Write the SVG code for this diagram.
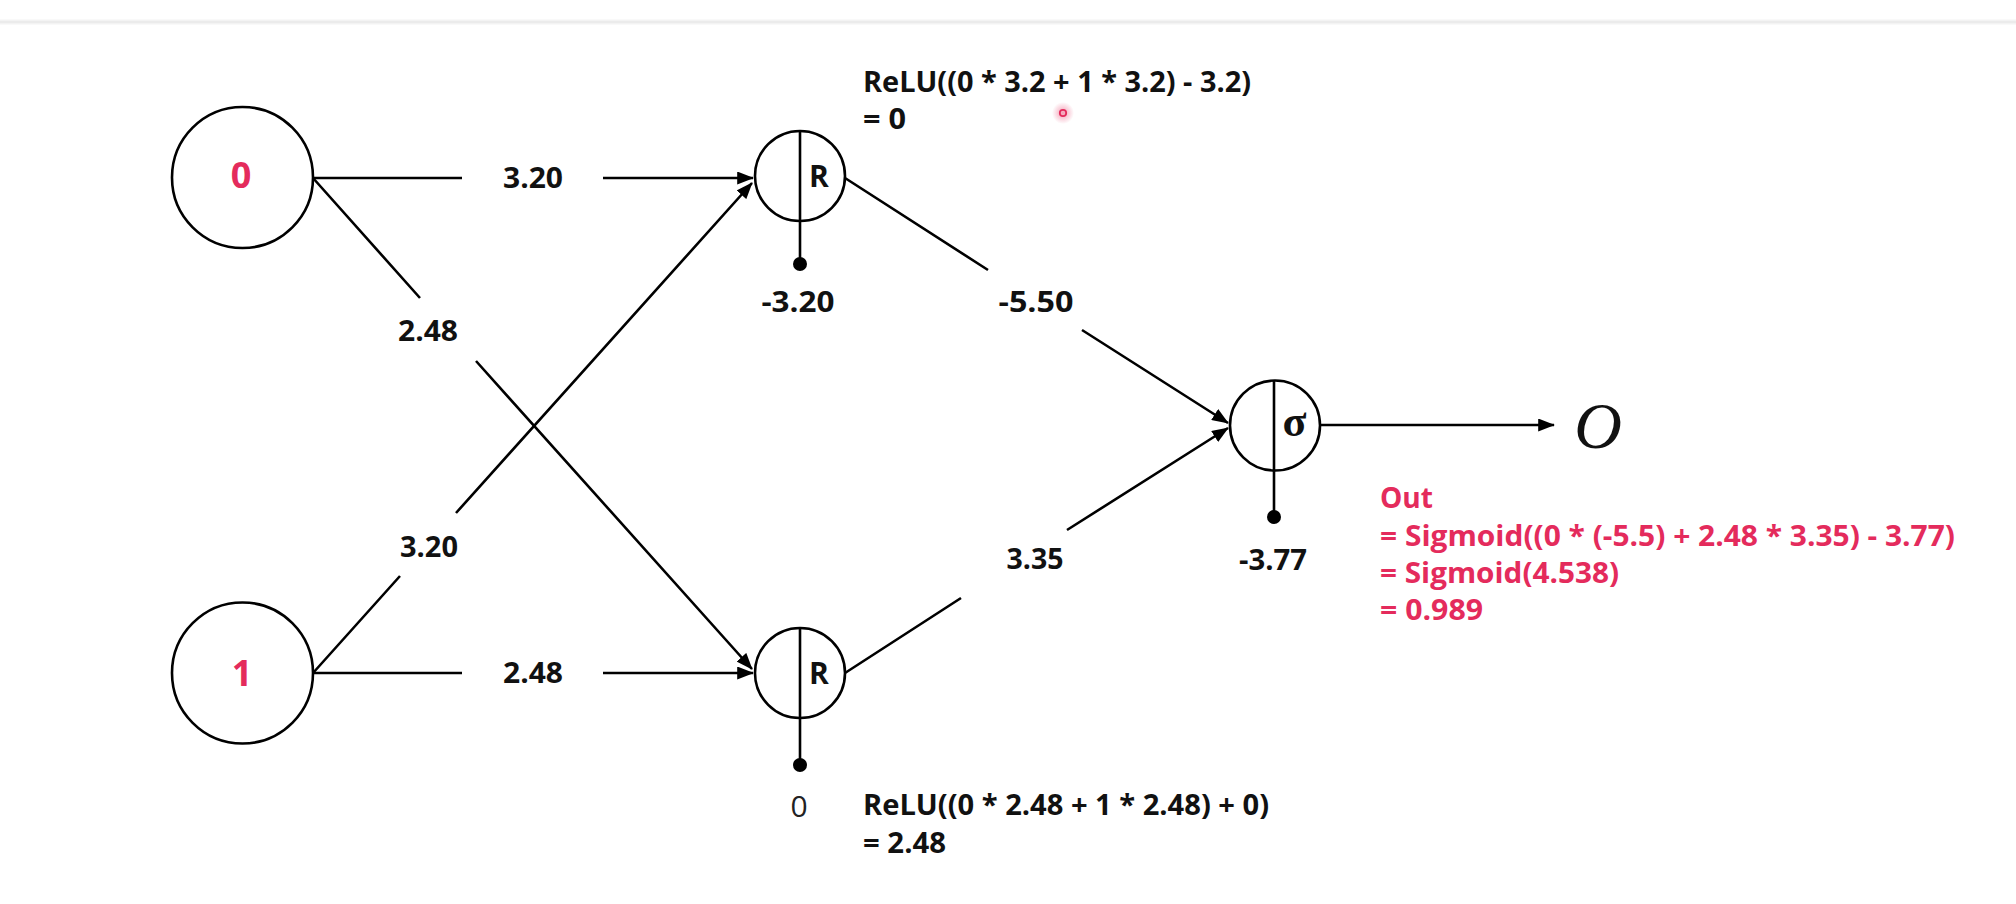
<svg xmlns="http://www.w3.org/2000/svg" width="2016" height="904" viewBox="0 0 2016 904">
  <style>
    .node { fill: #ffffff; stroke: #000000; stroke-width: 2.6; }
    .edge { fill: none; stroke: #000000; stroke-width: 2.6; }
    .split { stroke: #000000; stroke-width: 2.6; }
    .dot { fill: #000000; }
    .lbl { font-family: "Open Sans", "Liberation Sans", sans-serif; font-weight: 700; font-size: 28px; fill: #111111; }
    .mid { text-anchor: middle; }
    .fn { font-family: "Open Sans", "Liberation Sans", sans-serif; font-weight: 700; font-size: 30px; fill: #111111; text-anchor: middle; }
    .in { font-family: "Open Sans", "Liberation Sans", sans-serif; font-weight: 700; font-size: 36px; fill: #E42B5C; text-anchor: middle; }
    .formula { font-family: "Open Sans", "Liberation Sans", sans-serif; font-weight: 700; font-size: 28px; fill: #111111; }
    .red { fill: #E42B5C; }
    .plain { font-family: "Open Sans", "Liberation Sans", sans-serif; font-weight: 400; font-size: 30px; fill: #222222; text-anchor: middle; }
  </style>
  <defs>
    <marker id="arrow" viewBox="0 0 18 14" refX="17" refY="7" markerWidth="17" markerHeight="13" markerUnits="userSpaceOnUse" orient="auto">
      <path d="M0,0 L18,7 L0,14 Z" fill="#000000"/>
    </marker>
    <radialGradient id="halo">
      <stop offset="0" stop-color="#E42B5C" stop-opacity="0.45"/>
      <stop offset="1" stop-color="#E42B5C" stop-opacity="0"/>
    </radialGradient>
  </defs>

  <rect width="2016" height="904" fill="#ffffff"/>
  <!-- header separator -->
  <line x1="0" y1="22" x2="2016" y2="22" stroke="#f3f3f3" stroke-width="5"/>
  <line x1="0" y1="22" x2="2016" y2="22" stroke="#e8e8e8" stroke-width="1.5"/>

  <!-- connectors (gaps left open for the weight labels) -->
  <g id="connectors">
    <path class="edge" d="M313,178 L462,178 M603,178 L753,178" marker-end="url(#arrow)"/>
    <path class="edge" d="M313,178 L420,298 M476,361 L752,669" marker-end="url(#arrow)"/>
    <path class="edge" d="M313,673 L400,576 M456,513 L752,183" marker-end="url(#arrow)"/>
    <path class="edge" d="M313,673 L462,673 M603,673 L753,673" marker-end="url(#arrow)"/>
    <path class="edge" d="M845,178 L988,270 M1082,330 L1228,423" marker-end="url(#arrow)"/>
    <path class="edge" d="M845,673 L961,598 M1067,530 L1228,428" marker-end="url(#arrow)"/>
    <path class="edge" d="M1320,425 L1554,425" marker-end="url(#arrow)"/>
  </g>

  <!-- weight labels -->
  <g id="weights">
    <text class="lbl mid" x="533" y="188" textLength="60" lengthAdjust="spacingAndGlyphs">3.20</text>
    <text class="lbl mid" x="428" y="341" textLength="60" lengthAdjust="spacingAndGlyphs">2.48</text>
    <text class="lbl mid" x="429" y="557" textLength="58" lengthAdjust="spacingAndGlyphs">3.20</text>
    <text class="lbl mid" x="533" y="683" textLength="60" lengthAdjust="spacingAndGlyphs">2.48</text>
    <text class="lbl mid" x="1036" y="312" textLength="75" lengthAdjust="spacingAndGlyphs">-5.50</text>
    <text class="lbl mid" x="1035" y="569" textLength="57" lengthAdjust="spacingAndGlyphs">3.35</text>
  </g>

  <!-- inputs -->
  <g id="input-0">
    <circle class="node" cx="242.5" cy="177.5" r="70.5"/>
    <text class="in" x="241" y="188">0</text>
  </g>
  <g id="input-1">
    <circle class="node" cx="242.5" cy="673" r="70.5"/>
    <text class="in" x="242" y="686">1</text>
  </g>

  <!-- hidden ReLU units -->
  <g id="relu-1">
    <circle class="node" cx="800" cy="176" r="45"/>
    <line class="split" x1="800" y1="131" x2="800" y2="264"/>
    <circle class="dot" cx="800" cy="264" r="7"/>
    <text class="fn" x="819" y="187">R</text>
    <text class="lbl mid" x="798" y="312" textLength="73" lengthAdjust="spacingAndGlyphs">-3.20</text>
  </g>
  <g id="relu-2">
    <circle class="node" cx="800" cy="673" r="45"/>
    <line class="split" x1="800" y1="628" x2="800" y2="765"/>
    <circle class="dot" cx="800" cy="765" r="7"/>
    <text class="fn" x="819" y="684">R</text>
    <text class="plain" x="799" y="817">0</text>
  </g>

  <!-- sigmoid output unit -->
  <g id="sigmoid">
    <circle class="node" cx="1275" cy="425.5" r="45"/>
    <line class="split" x1="1274" y1="380.5" x2="1274" y2="517"/>
    <circle class="dot" cx="1274" cy="517" r="7"/>
    <text x="1294.5" y="436" text-anchor="middle" font-family="'Liberation Serif', serif" font-weight="700" font-size="44" fill="#111111">σ</text>
    <text class="lbl mid" x="1273" y="570" textLength="68" lengthAdjust="spacingAndGlyphs">-3.77</text>
  </g>

  <g id="output">
    <text x="1598" y="448" text-anchor="middle" font-family="'Liberation Serif', serif" font-style="italic" font-size="66" fill="#111111">O</text>
  </g>

  <!-- worked calculations -->
  <g id="relu-1-calc">
    <text class="formula" x="863" y="92" textLength="388" lengthAdjust="spacingAndGlyphs">ReLU((0 * 3.2 + 1 * 3.2) - 3.2)</text>
    <text class="formula" x="863" y="129" textLength="43" lengthAdjust="spacingAndGlyphs">= 0</text>
  </g>
  <g id="relu-2-calc">
    <text class="formula" x="863" y="815" textLength="406" lengthAdjust="spacingAndGlyphs">ReLU((0 * 2.48 + 1 * 2.48) + 0)</text>
    <text class="formula" x="863" y="853" textLength="83" lengthAdjust="spacingAndGlyphs">= 2.48</text>
  </g>
  <g id="output-calc">
    <text class="formula red" x="1380" y="508" textLength="53" lengthAdjust="spacingAndGlyphs">Out</text>
    <text class="formula red" x="1380" y="546" textLength="575" lengthAdjust="spacingAndGlyphs">= Sigmoid((0 * (-5.5) + 2.48 * 3.35) - 3.77)</text>
    <text class="formula red" x="1380" y="583" textLength="239" lengthAdjust="spacingAndGlyphs">= Sigmoid(4.538)</text>
    <text class="formula red" x="1380" y="620" textLength="103" lengthAdjust="spacingAndGlyphs">= 0.989</text>
  </g>

  <!-- pointer highlight -->
  <g id="pointer">
    <circle cx="1063" cy="113" r="11" fill="url(#halo)"/>
    <circle cx="1063" cy="113" r="3.2" fill="none" stroke="#E42B5C" stroke-width="1.8"/>
  </g>
</svg>
